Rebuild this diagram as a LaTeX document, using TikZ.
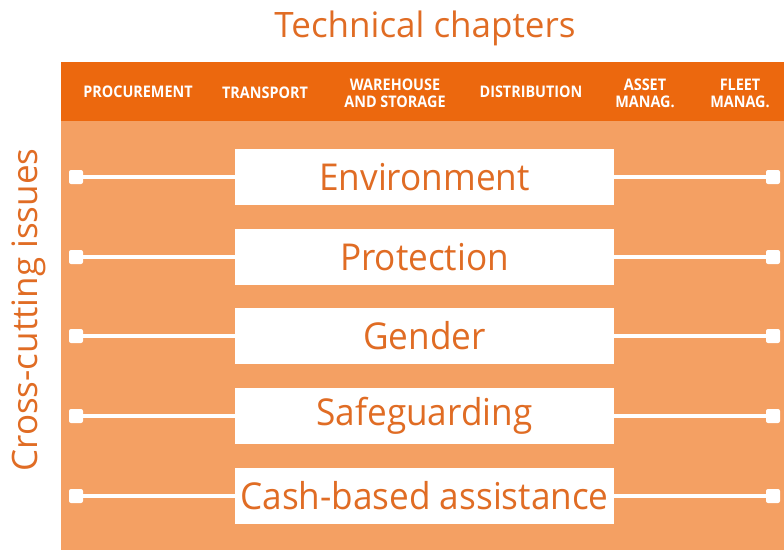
\documentclass[tikz,border=0pt]{standalone}
\usepackage{fontspec}
\setmainfont{Open Sans}
\newfontfamily\issuefont[FakeStretch=0.95]{Open Sans}
\newfontfamily\chapterfont[FakeStretch=0.9]{Open Sans}
\usetikzlibrary{positioning}

\definecolor{headorange}{RGB}{236,104,14}
\definecolor{bodyorange}{RGB}{244,160,99}
\definecolor{textorange}{RGB}{224,108,36}

\tikzset{
  issue/.style={fill=white, minimum width=379pt, minimum height=56pt, inner sep=0pt, text=textorange, font=\issuefont\fontsize{37}{37}\selectfont},
  endpoint/.style={fill=white, rounded corners=2pt, minimum size=14pt, inner sep=0pt},
  link/.style={draw=white, line width=4pt},
  chapter/.style={text=white, align=center, font=\chapterfont\bfseries\fontsize{16}{17}\selectfont},
  heading/.style={text=textorange, font=\fontsize{35}{35}\selectfont},
}

\begin{document}
\begin{tikzpicture}[x=1pt, y=-1pt]

\useasboundingbox (0,0) rectangle (784,550);

% panels
\fill[bodyorange] (61,121) rectangle (784,550);
\fill[headorange] (61,62) rectangle (784,121);

% headings
\node[heading, anchor=base] (title) at (425,37) {Technical chapters};
\node[heading, anchor=base, rotate=90] (side) at (37,310) {Cross-cutting issues};

% technical chapters
\path
(138,92) node[chapter] (procurement) {PROCUREMENT}
(265,93) node[chapter] (transport) {TRANSPORT}
(395,93) node[chapter] (warehouse) {WAREHOUSE\\AND STORAGE}
(531,92) node[chapter] (distribution) {DISTRIBUTION}
(645,93) node[chapter] (asset) {ASSET\\MANAG.}
(740,93) node[chapter] (fleet) {FLEET\\MANAG.}
;

% cross-cutting issues
\node[issue] (environment) at (424.5,177) {Environment};
\node[issue] (protection) at (424.5,257) {Protection};
\node[issue] (gender) at (424.5,336) {Gender};
\node[issue] (safeguarding) at (424.5,416) {Safeguarding};
\node[issue] (cash) at (424.5,496) {Cash-based assistance};

% end points
\node[endpoint] (environment-l) at (76,177) {};
\node[endpoint] (environment-r) at (773,177) {};
\node[endpoint] (protection-l) at (76,257) {};
\node[endpoint] (protection-r) at (773,257) {};
\node[endpoint] (gender-l) at (76,336) {};
\node[endpoint] (gender-r) at (773,336) {};
\node[endpoint] (safeguarding-l) at (76,416) {};
\node[endpoint] (safeguarding-r) at (773,416) {};
\node[endpoint] (cash-l) at (76,496) {};
\node[endpoint] (cash-r) at (773,496) {};

% links across the chapters
\draw[link] (environment-l) -- (environment) (environment) -- (environment-r);
\draw[link] (protection-l) -- (protection) (protection) -- (protection-r);
\draw[link] (gender-l) -- (gender) (gender) -- (gender-r);
\draw[link] (safeguarding-l) -- (safeguarding) (safeguarding) -- (safeguarding-r);
\draw[link] (cash-l) -- (cash) (cash) -- (cash-r);

\end{tikzpicture}
\end{document}
